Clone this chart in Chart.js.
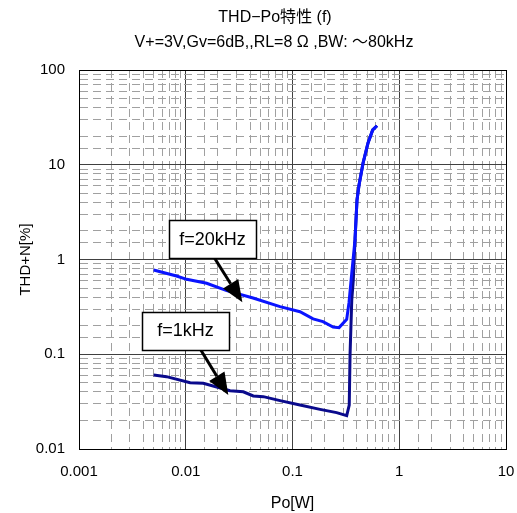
<!DOCTYPE html>
<html>
<head>
<meta charset="utf-8">
<script src="https://cdn.jsdelivr.net/npm/chart.js@4.4.0/dist/chart.umd.min.js"></script>
<style>
  html, body { margin: 0; padding: 0; background: #fff; }
  #wrap { width: 517px; height: 513px; position: relative; }
</style>
</head>
<body>
<div id="wrap"><canvas id="thd"></canvas></div>
<script>
const FONT = '"Liberation Sans", Arial, "Noto Sans CJK JP", sans-serif';

// values (Po in W, THD+N in %)
const po20k  = [0.005, 0.0082, 0.0102, 0.0157, 0.0242, 0.0427, 0.0764, 0.1175, 0.156, 0.193, 0.24, 0.273, 0.322, 0.338, 0.359, 0.385, 0.402, 0.42, 0.458, 0.51, 0.564, 0.619];
const thd20k = [0.775, 0.67, 0.618, 0.561, 0.469, 0.392, 0.318, 0.281, 0.236, 0.221, 0.194, 0.191, 0.234, 0.348, 0.72, 1.61, 4.25, 6.11, 10.4, 17.0, 23.3, 25.8];
const po1k   = [0.005, 0.0066, 0.011, 0.0146, 0.026, 0.0346, 0.0429, 0.0533, 0.0764, 0.1175, 0.181, 0.259, 0.322, 0.340, 0.346, 0.359, 0.371, 0.385, 0.402, 0.42, 0.458, 0.51, 0.564, 0.619];
const thd1k  = [0.0604, 0.058, 0.0501, 0.0494, 0.0412, 0.0402, 0.0363, 0.0357, 0.0324, 0.0291, 0.0262, 0.0242, 0.0225, 0.0291, 0.0982, 0.374, 0.607, 1.61, 4.25, 6.11, 10.4, 17.0, 23.3, 25.8];

const seriesNames = ["f=20kHz", "f=1kHz"];
const xTickLabels = ["0.001", "0.01", "0.1", "1", "10"];
const yTickLabels = ["0.01", "0.1", "1", "10", "100"];
const titleLines = ["THD−Po特性 (f)", "V+=3V,Gv=6dB,,RL=8 Ω ,BW: ～80kHz"];
const xTitle = "Po[W]";
const yTitle = "THD+N[%]";

const X_MIN = 0.001, X_MAX = 10;
const Y_MIN = 0.01, Y_MAX = 100;

// callout boxes: centre and arrow tip in data units
const callouts = [
  { text: seriesNames[0], box: [0.0178, 1.646], tip: [0.0339, 0.353], tailDx: 2 },
  { text: seriesNames[1], box: [0.00995, 0.178], tip: [0.02505, 0.0372], tailDx: 15 },
];

function pairs(xs, ys) { return xs.map((x, i) => ({ x, y: ys[i] })); }

function decadeIndex(v, min) {
  const e = Math.log10(v) - Math.log10(min);
  const r = Math.round(e);
  return Math.abs(e - r) < 1e-6 ? r : -1;
}

function gridColor(min, last) {
  return ctx => {
    const v = ctx.tick && ctx.tick.value;
    if (v == null) return "#000";
    const d = decadeIndex(v, min);
    if (d < 0) return "#a0a0a0";
    if (d === 0 || d === last) return "#000";
    return "#404040";
  };
}

function gridDash(min) {
  return ctx => {
    const v = ctx.tick && ctx.tick.value;
    if (v == null) return [];
    return decadeIndex(v, min) < 0 ? [8, 5] : [];
  };
}

function tickLabel(min, labels) {
  return v => {
    const d = decadeIndex(v, min);
    return d >= 0 ? labels[d] : "";
  };
}

// keep the plot frame where the reference has it
function noOverflow(s) { s.paddingLeft = 0; s.paddingRight = 0; s.paddingTop = 0; s.paddingBottom = 0; }

const calloutPlugin = {
  id: "callouts",
  afterDatasetsDraw(chart) {
    const { ctx } = chart;
    const xs = chart.scales.x, ys = chart.scales.y;
    ctx.save();
    ctx.font = "18px " + FONT;
    for (const c of callouts) {
      const cx = xs.getPixelForValue(c.box[0]);
      const cy = ys.getPixelForValue(c.box[1]);
      const w = 87, h = 38;
      const tx = xs.getPixelForValue(c.tip[0]);
      const ty = ys.getPixelForValue(c.tip[1]);
      const sx = cx + c.tailDx, sy = cy + h / 2;
      const ang = Math.atan2(ty - sy, tx - sx);
      const hl = 22, hw = 9;
      const bx = tx - hl * Math.cos(ang), by = ty - hl * Math.sin(ang);
      ctx.strokeStyle = "#000";
      ctx.fillStyle = "#000";
      ctx.lineWidth = 3;
      ctx.beginPath(); ctx.moveTo(sx, sy); ctx.lineTo(bx, by); ctx.stroke();
      ctx.beginPath();
      ctx.moveTo(tx, ty);
      ctx.lineTo(bx + hw * Math.sin(ang), by - hw * Math.cos(ang));
      ctx.lineTo(bx - hw * Math.sin(ang), by + hw * Math.cos(ang));
      ctx.closePath(); ctx.fill();

      const left = Math.round(cx - w / 2) + 0.5, top = Math.round(cy - h / 2) + 0.5;
      ctx.fillStyle = "#fff";
      ctx.fillRect(left, top, w, h);
      ctx.lineWidth = 1.5;
      ctx.strokeRect(left, top, w, h);
      ctx.fillStyle = "#000";
      ctx.textAlign = "center";
      ctx.textBaseline = "middle";
      ctx.fillText(c.text, cx, cy + 1);
    }
    ctx.restore();
  },
  afterDraw(chart) {
    const { ctx } = chart;
    ctx.save();
    ctx.fillStyle = "#000";
    ctx.textAlign = "center";
    ctx.textBaseline = "middle";
    ctx.font = "16px " + FONT;
    ctx.fillText(titleLines[0], 275, 18);
    ctx.fillText(titleLines[1], 274, 43);
    ctx.restore();
  }
};

Chart.defaults.color = "#000";
Chart.defaults.font.family = FONT;

new Chart(document.getElementById("thd"), {
  type: "scatter",
  data: {
    datasets: [
      { label: seriesNames[0], data: pairs(po20k, thd20k), borderColor: "#0a14ff", borderWidth: 3, showLine: true, pointRadius: 0, tension: 0 },
      { label: seriesNames[1], data: pairs(po1k, thd1k), borderColor: "#0a0a8c", borderWidth: 3, showLine: true, pointRadius: 0, tension: 0 },
    ],
  },
  options: {
    responsive: true,
    maintainAspectRatio: false,
    animation: false,
    layout: { padding: { top: 70, right: 11, left: 0, bottom: 0 } },
    plugins: { legend: { display: false }, tooltip: { enabled: false }, title: { display: false } },
    scales: {
      x: {
        type: "logarithmic",
        min: X_MIN, max: X_MAX,
        afterFit: s => { s.height = 64; noOverflow(s); },
        grid: { color: gridColor(X_MIN, 4), lineWidth: 1, drawTicks: false },
        border: { display: true, color: "#000", width: 1, dash: gridDash(X_MIN) },
        ticks: { autoSkip: false, maxRotation: 0, padding: 14, font: { size: 15 }, callback: tickLabel(X_MIN, xTickLabels) },
        title: { display: true, text: xTitle, font: { size: 16 }, padding: { top: 0, bottom: 0 } },
      },
      y: {
        type: "logarithmic",
        min: Y_MIN, max: Y_MAX,
        afterFit: s => { s.width = 79; noOverflow(s); },
        grid: { color: gridColor(Y_MIN, 4), lineWidth: 1, drawTicks: false },
        border: { display: true, color: "#000", width: 1, dash: gridDash(Y_MIN) },
        ticks: { autoSkip: false, padding: 14, font: { size: 15 }, callback: tickLabel(Y_MIN, yTickLabels) },
        title: { display: true, text: yTitle, font: { size: 15 }, padding: { top: 17, bottom: 0 } },
      },
    },
  },
  plugins: [calloutPlugin],
});
</script>
</body>
</html>
